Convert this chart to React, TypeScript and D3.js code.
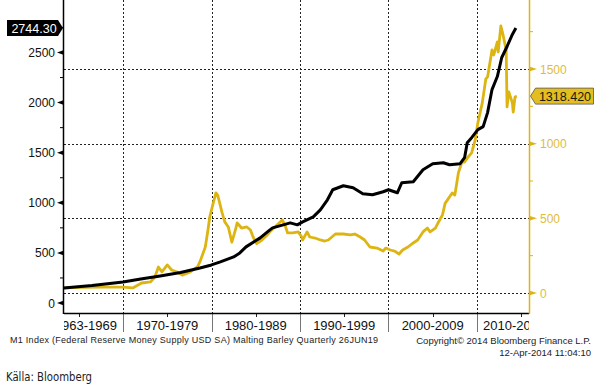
import React, { useEffect, useRef } from 'react';
import * as d3 from 'd3';

// M1 money supply (left axis), decimal years
const m1Years = [1963.3, 1966.5, 1970, 1972, 1974.2, 1976.5, 1978.7, 1980, 1981, 1982.5, 1983.2, 1983.9, 1985.5, 1986.6, 1986.9, 1988.1, 1988.9, 1989.7, 1990.3, 1991.5, 1992.3, 1993.1, 1993.7, 1994.9, 1996.0, 1997.1, 1998.2, 1999.4, 2000, 2001.0, 2001.5, 2002.8, 2003.9, 2005.0, 2006.2, 2006.9, 2008.1, 2008.6, 2008.9, 2009.4, 2010.1, 2010.7, 2011.2, 2011.7, 2012.3, 2012.8, 2013.4, 2014.0, 2014.4];
const m1Values = [150, 175, 210, 240, 270, 305, 350, 380, 410, 460, 500, 560, 650, 730, 750, 780, 800, 780, 810, 860, 930, 1030, 1130, 1170, 1150, 1090, 1080, 1110, 1130, 1100, 1200, 1210, 1330, 1390, 1400, 1380, 1390, 1450, 1600, 1650, 1730, 1760, 1900, 2130, 2260, 2450, 2560, 2680, 2744.3];

// Malting barley (right axis)
const barleyYears = [1963.4, 1965.5, 1967.7, 1970, 1971.1, 1972.1, 1973.1, 1973.6, 1974.0, 1974.4, 1975.0, 1975.5, 1976.1, 1976.7, 1977.6, 1978.4, 1978.7, 1979.3, 1979.6, 1979.8, 1980.2, 1980.5, 1980.7, 1981.2, 1981.5, 1981.9, 1982.3, 1982.7, 1982.9, 1983.4, 1984.0, 1984.4, 1984.7, 1985.1, 1985.7, 1986.3, 1986.6, 1987.4, 1988.0, 1988.3, 1988.6, 1989.2, 1989.8, 1990.2, 1990.3, 1990.8, 1991.1, 1991.7, 1992.3, 1992.8, 1993.2, 1993.6, 1994.0, 1994.9, 1995.7, 1996.2, 1996.8, 1997.3, 1997.9, 1998.7, 1999.4, 1999.7, 2000.2, 2000.7, 2001.2, 2001.6, 2002.2, 2002.8, 2003.3, 2003.9, 2004.4, 2004.7, 2005.3, 2005.6, 2006.1, 2006.4, 2007.2, 2007.5, 2007.9, 2008.3, 2008.6, 2009.0, 2009.4, 2009.8, 2010.1, 2010.6, 2011.0, 2011.2, 2011.7, 2011.9, 2012.3, 2012.4, 2012.7, 2012.9, 2013.3, 2013.4, 2013.6, 2014.0, 2014.1, 2014.3, 2014.5];
const barleyValues = [34, 38, 40, 40, 34, 67, 74, 107, 174, 141, 188, 154, 141, 120, 141, 174, 210, 308, 422, 509, 603, 670, 656, 536, 476, 442, 340, 422, 469, 435, 442, 422, 375, 330, 355, 389, 410, 455, 489, 455, 402, 402, 409, 375, 355, 409, 375, 368, 355, 348, 355, 375, 395, 395, 389, 395, 375, 355, 308, 301, 281, 301, 288, 281, 261, 288, 308, 335, 355, 409, 435, 409, 435, 469, 522, 600, 670, 656, 804, 877, 877, 911, 938, 1025, 1139, 1273, 1433, 1447, 1628, 1594, 1681, 1614, 1788, 1741, 1628, 1246, 1346, 1273, 1212, 1313, 1318.42];

const leftTicks = [0, 500, 1000, 1500, 2000, 2500];
const leftMinor = [250, 750, 1250, 1750, 2250, 2750];
const rightTicks = [0, 500, 1000, 1500];
const rightMinor = [250, 750, 1250, 1750];
const decadeBreaks = [1970, 1980, 1990, 2000, 2010];
const midDecades = [1965, 1975, 1985, 1995, 2005, 2015];
const decadeLabels = ['1963-1969', '1970-1979', '1980-1989', '1990-1999', '2000-2009', '2010-2019'];
const labelCenters = [1965.8, 1975, 1985, 1995, 2005, 2014.2];

const YELLOW = '#DDB512';
const YELLOW_TEXT = '#E0BC3A';

const App: React.FC = () => {
  const svgRef = useRef<SVGSVGElement>(null);

  useEffect(() => {
    if (!svgRef.current) return;
    const svg = d3.select(svgRef.current);
    svg.selectAll('*').remove();

    const left = 64, right = 529, top = 0, bottom = 313;
    const x = d3.scaleLinear().domain([1963.33, 2015.88]).range([left, right]);
    const yL = d3.scaleLinear().domain([0, 2500]).range([303, 52.5]);
    const yR = d3.scaleLinear().domain([0, 1500]).range([293, 69]);

    const defs = svg.append('defs');
    defs.append('clipPath').attr('id', 'plotclip')
      .append('rect').attr('x', left).attr('y', top).attr('width', right - left).attr('height', 387);

    // grid
    svg.append('g').selectAll('line').data(rightTicks).enter().append('line')
      .attr('x1', left).attr('x2', right)
      .attr('y1', d => Math.round(yR(d)) + 0.5).attr('y2', d => Math.round(yR(d)) + 0.5)
      .attr('stroke', '#222').attr('stroke-width', 1).attr('stroke-dasharray', '2,2');
    svg.append('g').selectAll('line').data(decadeBreaks).enter().append('line')
      .attr('x1', d => Math.round(x(d)) + 0.5).attr('x2', d => Math.round(x(d)) + 0.5)
      .attr('y1', top).attr('y2', bottom)
      .attr('stroke', '#222').attr('stroke-width', 1).attr('stroke-dasharray', '2,2');

    // x axis separators, minor ticks, labels
    svg.append('g').selectAll('line').data(decadeBreaks).enter().append('line')
      .attr('x1', d => Math.round(x(d)) + 0.5).attr('x2', d => Math.round(x(d)) + 0.5)
      .attr('y1', bottom).attr('y2', 332)
      .attr('stroke', '#777').attr('stroke-width', 1);
    svg.append('g').selectAll('line').data(midDecades).enter().append('line')
      .attr('x1', d => Math.round(x(d)) + 0.5).attr('x2', d => Math.round(x(d)) + 0.5)
      .attr('y1', bottom).attr('y2', bottom + 4)
      .attr('stroke', '#222').attr('stroke-width', 1);
    svg.append('g').attr('clip-path', 'url(#plotclip)')
      .selectAll('text').data(decadeLabels).enter().append('text')
      .attr('x', (d, i) => x(labelCenters[i]))
      .attr('y', 330)
      .attr('text-anchor', 'middle')
      .attr('font-family', 'Liberation Sans, Arial, sans-serif')
      .attr('font-size', '13px')
      .attr('fill', '#111')
      .text(d => d);

    // lines
    const lineL = d3.line<number>().x((d, i) => x(m1Years[i])).y(d => yL(d));
    const lineR = d3.line<number>().x((d, i) => x(barleyYears[i])).y(d => yR(d));
    svg.append('path').datum(barleyValues)
      .attr('d', lineR).attr('fill', 'none').attr('stroke', YELLOW)
      .attr('stroke-width', 2.8).attr('stroke-linejoin', 'round');
    svg.append('path').datum(m1Values)
      .attr('d', lineL).attr('fill', 'none').attr('stroke', '#000')
      .attr('stroke-width', 3).attr('stroke-linejoin', 'round');

    // axes lines
    svg.append('line').attr('x1', left).attr('x2', right).attr('y1', bottom + 0.5).attr('y2', bottom + 0.5)
      .attr('stroke', '#000').attr('stroke-width', 1.5);
    svg.append('line').attr('x1', left - 0.5).attr('x2', left - 0.5).attr('y1', top).attr('y2', bottom + 1)
      .attr('stroke', '#000').attr('stroke-width', 1.5);
    svg.append('line').attr('x1', right + 0.5).attr('x2', right + 0.5).attr('y1', top).attr('y2', bottom + 1)
      .attr('stroke', YELLOW).attr('stroke-width', 1.5);

    // left ticks
    svg.append('g').selectAll('line').data(leftMinor).enter().append('line')
      .attr('x1', left - 4).attr('x2', left).attr('y1', d => yL(d)).attr('y2', d => yL(d))
      .attr('stroke', '#000').attr('stroke-width', 1);
    svg.append('g').selectAll('path').data(leftTicks).enter().append('path')
      .attr('d', d => `M${left},${yL(d) - 2.5}L${left - 7},${yL(d)}L${left},${yL(d) + 2.5}Z`)
      .attr('fill', '#000');
    svg.append('g').selectAll('text').data(leftTicks).enter().append('text')
      .attr('x', left - 9).attr('y', d => yL(d) + 4.5)
      .attr('text-anchor', 'end')
      .attr('font-family', 'Liberation Sans, Arial, sans-serif')
      .attr('font-size', '12px').attr('fill', '#111')
      .text(d => d);

    // right ticks
    svg.append('g').selectAll('line').data(rightMinor).enter().append('line')
      .attr('x1', right).attr('x2', right + 4).attr('y1', d => yR(d)).attr('y2', d => yR(d))
      .attr('stroke', YELLOW).attr('stroke-width', 1);
    svg.append('g').selectAll('path').data(rightTicks).enter().append('path')
      .attr('d', d => `M${right},${yR(d) - 2.5}L${right + 8},${yR(d)}L${right},${yR(d) + 2.5}Z`)
      .attr('fill', YELLOW);
    svg.append('g').selectAll('text').data(rightTicks).enter().append('text')
      .attr('x', right + 11).attr('y', d => yR(d) + 4.5)
      .attr('font-family', 'Liberation Sans, Arial, sans-serif')
      .attr('font-size', '12px').attr('fill', YELLOW_TEXT)
      .text(d => d);

    // last value tags
    const lastM1 = m1Values[m1Values.length - 1];
    const ly = yL(lastM1);
    svg.append('path')
      .attr('d', `M7,${ly - 8}L58,${ly - 8}L63,${ly}L58,${ly + 8}L7,${ly + 8}Z`)
      .attr('fill', '#000');
    svg.append('text').attr('x', 34).attr('y', ly + 4.5).attr('text-anchor', 'middle')
      .attr('font-family', 'Liberation Sans, Arial, sans-serif').attr('font-size', '12.5px')
      .attr('fill', '#fff').text(lastM1.toFixed(2));

    const lastB = barleyValues[barleyValues.length - 1];
    const ry = yR(lastB);
    svg.append('path')
      .attr('d', `M530.5,${ry}L535.5,${ry - 8}L593.5,${ry - 8}L593.5,${ry + 8}L535.5,${ry + 8}Z`)
      .attr('fill', '#E3BE1E').attr('stroke', '#555').attr('stroke-width', 0.8);
    svg.append('text').attr('x', 565).attr('y', ry + 4.5).attr('text-anchor', 'middle')
      .attr('font-family', 'Liberation Sans, Arial, sans-serif').attr('font-size', '12.5px')
      .attr('fill', '#1a1a10').text(lastB.toFixed(3));

    // footer
    svg.append('text').attr('x', 10).attr('y', 343)
      .attr('font-family', 'Liberation Sans, Arial, sans-serif').attr('font-size', '9px')
      .attr('textLength', 368).attr('fill', '#222')
      .text('M1 Index (Federal Reserve Money Supply USD SA) Malting Barley  Quarterly 26JUN19');
    svg.append('text').attr('x', 591).attr('y', 344).attr('text-anchor', 'end')
      .attr('font-family', 'Liberation Sans, Arial, sans-serif').attr('font-size', '9.5px')
      .attr('fill', '#222').text('Copyright© 2014 Bloomberg Finance L.P.');
    svg.append('text').attr('x', 591).attr('y', 356).attr('text-anchor', 'end')
      .attr('font-family', 'Liberation Sans, Arial, sans-serif').attr('font-size', '9.5px')
      .attr('fill', '#222').text('12-Apr-2014 11:04:10');
    svg.append('text').attr('x', 6).attr('y', 381)
      .attr('font-family', 'Liberation Sans Narrow, DejaVu Sans Condensed, Liberation Sans, sans-serif')
      .attr('font-size', '13px').attr('textLength', 86).attr('lengthAdjust', 'spacingAndGlyphs')
      .attr('fill', '#222').text('Källa: Bloomberg');
  }, []);

  return (
    <svg
      ref={svgRef}
      width={598}
      height={387}
      style={{ position: 'absolute', left: 0, top: 0, background: '#fff', display: 'block' }}
    />
  );
};

export default App;
